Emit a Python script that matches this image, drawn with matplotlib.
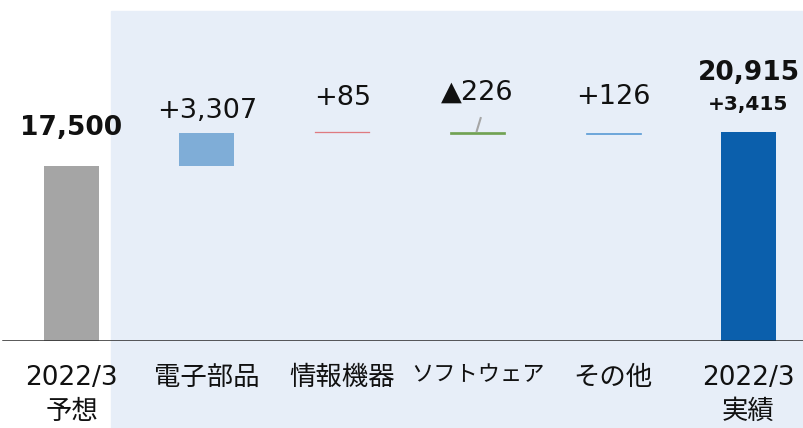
import matplotlib.pyplot as plt
from matplotlib.patches import Rectangle

# 2022/3 実績 vs 予想 のウォーターフォール

categories = ["2022/3\n予想", "電子部品", "情報機器", "ソフトウェア", "その他", "2022/3\n実績"]
forecast = 17500
deltas = [3307, 85, -226, 126]
actual = 20915
value_labels = ["17,500", "+3,307", "+85", "▲226", "+126", "20,915"]
total_delta_label = "+3,415"

colors = ["#a5a5a5", "#7fadd7", "#df7a80", "#71a253", "#5b9bd5", "#0b5fac"]

plt.rcParams['font.family'] = ['DejaVu Sans', 'Noto Sans CJK JP']

fig = plt.figure(figsize=(8.04, 4.28), dpi=100)
W, H = 804, 428

# 背景の薄い青パネル
fig.add_artist(Rectangle((111 / W, 0), (803 - 111) / W, (H - 11) / H,
                         transform=fig.transFigure, color="#e7eef8", zorder=-1))

ax = fig.add_axes([0, (H - 341) / H, 1, 341 / H])
ax.patch.set_visible(False)
ax.set_xlim(-0.528, 5.41)
ax.set_ylim(0, 34100)
for s in ax.spines.values():
    s.set_visible(False)
ax.set_yticks([])

# 棒の下端と高さ
bottoms = [0]
heights = [forecast]
level = forecast
for d in deltas:
    bottoms.append(level)
    heights.append(d)
    level += d
bottoms.append(0)
heights.append(actual)

x = list(range(len(categories)))
edge_w = [0, 0, 0.2, 0.5, 0.5, 0]
ax.bar(x, heights, bottom=bottoms, width=0.406, color=colors,
       edgecolor=colors, linewidth=edge_w, zorder=2)

ax.axhline(0, xmin=3 / W, xmax=1, color="#262626", lw=1.8, zorder=3)

# ラベル (棒の上端からのオフセット px)
label_dy = [38, 22, 34, 39, 36, 59]
bold = [True, False, False, False, False, True]
for i, txt in enumerate(value_labels):
    top = max(bottoms[i], bottoms[i] + heights[i])
    ax.annotate(txt, (i, top), xytext=(0, label_dy[i] * 0.72), textcoords="offset points",
                ha="center", va="center", fontsize=19.5 if not bold[i] else 19,
                fontweight="bold" if bold[i] else "normal", color="#111111")
ax.annotate(total_delta_label, (5, actual), xytext=(0, 27 * 0.72), textcoords="offset points",
            ha="center", va="center", fontsize=14.5, fontweight="bold", color="#111111")

# ソフトウェアの引き出し線
sw_top = bottoms[3]
ax.plot([3 - 0.007, 3 + 0.022], [sw_top + 100, sw_top + 1400], color="#a6a6a6", lw=1.5, zorder=3)

ax.set_xticks(x)
ax.set_xticklabels(categories, fontsize=19, color="#111111", linespacing=1.4)
ax.tick_params(axis="x", length=0, pad=17)
# ソフトウェアは幅が広いので少し詰める
ax.get_xticklabels()[3].set_fontsize(16)

fig.savefig("out.png", dpi=100)
